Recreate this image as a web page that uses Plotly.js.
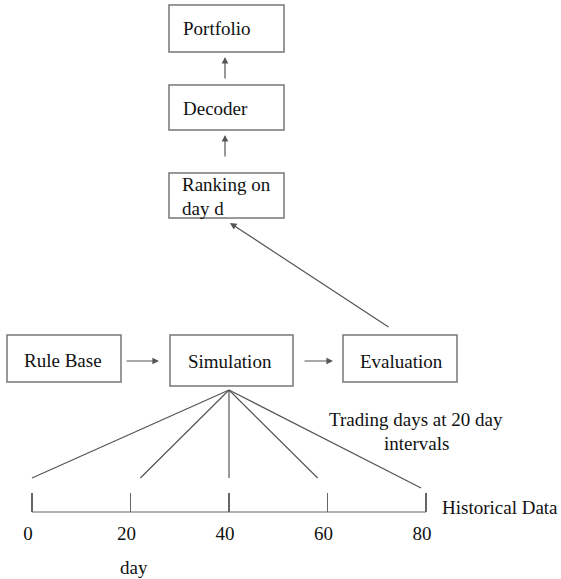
<!DOCTYPE html>
<html>
<head>
<meta charset="utf-8">
<script src="https://cdn.plot.ly/plotly-3.0.1.min.js"></script>
<style>html,body{margin:0;padding:0;background:#fff;}#chart{width:561px;height:579px;}</style>
</head>
<body>
<div id="chart"></div>
<script>
// ---- data ----
const boxLabels = ["Portfolio", "Decoder", "Ranking on|day d", "Rule Base", "Simulation", "Evaluation"];
const dayTicks = [0, 20, 40, 60, 80];
const dayTickLabels = ["0", "20", "40", "60", "80"];
const fanStartDay = 40;
const fanEndDays = [0, 22, 40, 58, 79];
const axisLabel = "Historical Data";
const axisTitle = "day";
const noteLines = ["Trading days at 20 day", "intervals"];

// ---- layout helpers (pixel space) ----
const W = 561, H = 579;
const FONT = "Liberation Serif, Times New Roman, serif";
const FS = 19;
const boxGeom = [
  {x0:169, x1:284, y0:5,   y1:52,  tx:181, ty:[28]},
  {x0:169, x1:284, y0:85,  y1:130, tx:181, ty:[108]},
  {x0:169, x1:284, y0:173, y1:218, tx:180, ty:[184, 208]},
  {x0:7,   x1:121, y0:335, y1:382, tx:22,  ty:[360]},
  {x0:170, x1:293, y0:335, y1:386, tx:186, ty:[361]},
  {x0:343, x1:457, y0:335, y1:382, tx:358, ty:[361]}
];
const arrows = [
  {hx:225, hy:57,  tx:225, ty:80},
  {hx:225, hy:135, tx:225, ty:158},
  {hx:230, hy:223, tx:390, ty:328},
  {hx:159, hy:361, tx:125, ty:361},
  {hx:333, hy:361, tx:303, ty:361}
];
const fanApexY = 390;
const fanEndY = [478, 478, 478, 478, 488];
const axisY = 512;
const axX0 = 32, axX1 = 426, pad = 0.3;
const pxPerDay = (axX1 - axX0) / 80;

const shapes = boxGeom.map(b => ({
  type: "rect", xref: "x", yref: "y", x0: b.x0, x1: b.x1, y0: b.y0, y1: b.y1,
  line: {color: "#777", width: 1.5}, fillcolor: "rgba(0,0,0,0)"
}));

const annotations = [];
boxLabels.forEach((lab, i) => {
  const parts = lab.split("|");
  parts.forEach((p, j) => {
    annotations.push({xref:"x", yref:"y", x: boxGeom[i].tx, y: boxGeom[i].ty[j], text: p,
      showarrow:false, xanchor:"left", yanchor:"middle", font:{family:FONT, size:FS, color:"#111"}});
  });
});
arrows.forEach(a => annotations.push({
  xref:"x", yref:"y", axref:"x", ayref:"y", x:a.hx, y:a.hy, ax:a.tx, ay:a.ty, text:"",
  showarrow:true, arrowhead:2, arrowsize:1.1, arrowwidth:1.2, arrowcolor:"#555", standoff:0, startstandoff:0
}));
annotations.push({xref:"x", yref:"y", x:416, y:419, text:noteLines[0], showarrow:false, xanchor:"center", yanchor:"middle", font:{family:FONT, size:FS, color:"#111"}});
annotations.push({xref:"x", yref:"y", x:416, y:443, text:noteLines[1], showarrow:false, xanchor:"center", yanchor:"middle", font:{family:FONT, size:FS, color:"#111"}});
annotations.push({xref:"x", yref:"y", x:440, y:507, text:axisLabel, showarrow:false, xanchor:"left", yanchor:"middle", font:{family:FONT, size:FS, color:"#111"}});
annotations.push({xref:"x", yref:"y", x:134, y:567, text:axisTitle, showarrow:false, xanchor:"center", yanchor:"middle", font:{family:FONT, size:FS, color:"#111"}});

// fan lines from the simulation box down to the trading days
const fx = [], fy = [];
fanEndDays.forEach((d, i) => { fx.push(fanStartDay, d, null); fy.push(fanApexY, fanEndY[i], null); });

const traces = [{
  type: "scatter", mode: "lines", x: fx, y: fy, xaxis: "x2", yaxis: "y",
  line: {color: "#555", width: 1.2}, hoverinfo: "skip", showlegend: false
}];

const layout = {
  width: W, height: H, margin: {l:0, r:0, t:0, b:0},
  paper_bgcolor: "#fff", plot_bgcolor: "#fff", showlegend: false,
  xaxis: {range:[0, W], visible:false, fixedrange:true},
  yaxis: {range:[H, 0], visible:false, fixedrange:true},
  xaxis2: {
    domain: [(axX0 - pad*pxPerDay)/W, (axX1 + pad*pxPerDay)/W], range: [-pad, 80 + pad],
    anchor: "free", position: (H - axisY)/H,
    showline: false,
    ticks: "inside", ticklen: 19, tickwidth: 1.2, tickcolor: "#666",
    tickvals: dayTicks, ticktext: dayTickLabels, showgrid: false, zeroline: false,
    ticklabelstandoff: 8, ticklabelshift: -4,
    tickfont: {family: FONT, size: FS, color: "#111"}, fixedrange: true
  },
  shapes: shapes.concat([{type:"line", xref:"x2", yref:"y", x0:dayTicks[0], x1:dayTicks[dayTicks.length-1], y0:axisY, y1:axisY, line:{color:"#666", width:1.2}}]),
  annotations: annotations
};

Plotly.newPlot("chart", traces, layout, {staticPlot: true, displayModeBar: false});
</script>
</body>
</html>
